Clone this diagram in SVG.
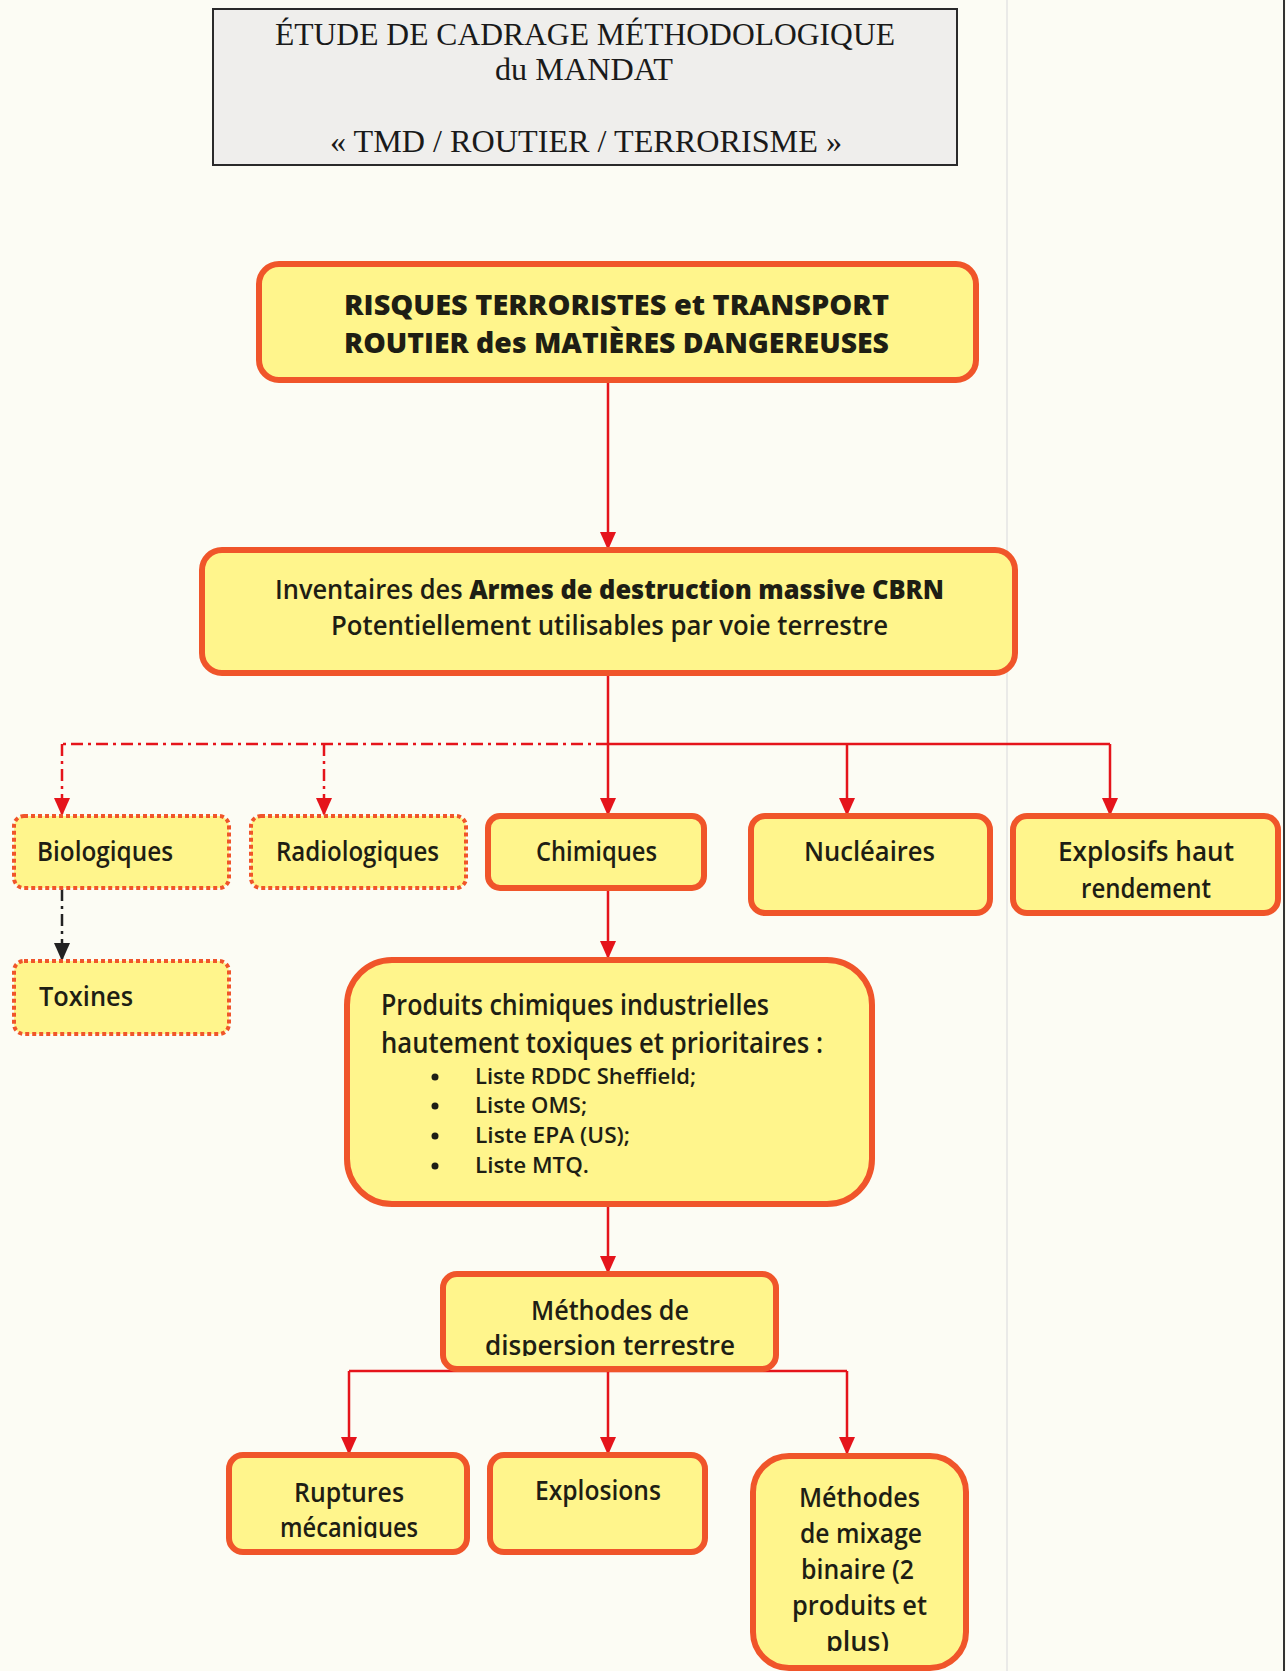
<svg xmlns="http://www.w3.org/2000/svg" width="1286" height="1671" viewBox="0 0 1286 1671">
  <style>
    .node { fill: #fff58c; stroke: #f0552a; stroke-width: 6; }
    .dotted { fill: #fff58c; stroke: #f0552a; stroke-width: 4; stroke-dasharray: 4 3; }
    .lbl { font-family: "Open Sans", "Noto Sans", sans-serif; fill: #1e1e14; font-size: 27px; font-weight: 600; }
    .b { font-weight: 800; }
    .big { font-size: 28px; }
    .head { font-size: 29px; }
    .item { font-size: 22px; }
    .title { font-family: "Liberation Serif", serif; font-size: 31px; fill: #1a1a1a; text-anchor: middle; }
    .wire { fill: none; stroke: #e5141b; stroke-width: 2.5; }
    .dashdot { fill: none; stroke: #e5141b; stroke-width: 2.5; stroke-dasharray: 12 5 3 5; }
    .dashdot-dark { fill: none; stroke: #222; stroke-width: 2.5; stroke-dasharray: 12 5 3 5; }
  </style>
  <defs>
    <!-- arrowheads drawn along +x so orient="auto" turns them with the line -->
    <marker id="arrow" markerUnits="userSpaceOnUse" markerWidth="18" markerHeight="16" refX="17" refY="8" orient="auto" viewBox="0 0 18 16">
      <path d="M0,0 L18,8 L0,16 Z" fill="#e5141b"/>
    </marker>
    <marker id="arrow-dark" markerUnits="userSpaceOnUse" markerWidth="18" markerHeight="16" refX="17" refY="8" orient="auto" viewBox="0 0 18 16">
      <path d="M0,0 L18,8 L0,16 Z" fill="#222"/>
    </marker>
    <clipPath id="clip-dispersion"><rect x="442" y="1274" width="334" height="82"/></clipPath>
    <clipPath id="clip-ruptures"><rect x="228" y="1455" width="239" height="83"/></clipPath>
    <clipPath id="clip-mixage"><rect x="752" y="1455" width="214" height="196"/></clipPath>
  </defs>

  <!-- page -->
  <rect width="1286" height="1671" fill="#fcfcf4"/>
  <line x1="1007" y1="0" x2="1007" y2="1671" stroke="#e4e4e4" stroke-width="1.5"/>
  <line x1="1284" y1="0" x2="1284" y2="1671" stroke="#333" stroke-width="2"/>

  <!-- heading frame -->
  <g id="title">
    <rect x="213" y="9" width="744" height="156" fill="#efeeec" stroke="#2a2a2a" stroke-width="2"/>
    <text class="title" x="585" y="45" textLength="620" lengthAdjust="spacingAndGlyphs">ÉTUDE DE CADRAGE MÉTHODOLOGIQUE</text>
    <text class="title" x="584" y="80" textLength="178" lengthAdjust="spacingAndGlyphs">du MANDAT</text>
    <text class="title" x="586" y="152" textLength="512" lengthAdjust="spacingAndGlyphs">« TMD / ROUTIER  / TERRORISME »</text>
  </g>

  <!-- connectors -->
  <g id="connectors">
    <line class="wire" x1="608" y1="380" x2="608" y2="549" marker-end="url(#arrow)"/>
    <line class="wire" x1="608" y1="673" x2="608" y2="744"/>
    <line class="wire" x1="608" y1="744" x2="1110" y2="744"/>
    <line class="dashdot" x1="608" y1="744" x2="62" y2="744"/>
    <line class="dashdot" x1="62" y1="744" x2="62" y2="815" marker-end="url(#arrow)"/>
    <line class="dashdot" x1="324" y1="744" x2="324" y2="815" marker-end="url(#arrow)"/>
    <line class="wire" x1="608" y1="744" x2="608" y2="815" marker-end="url(#arrow)"/>
    <line class="wire" x1="847" y1="744" x2="847" y2="815" marker-end="url(#arrow)"/>
    <line class="wire" x1="1110" y1="744" x2="1110" y2="815" marker-end="url(#arrow)"/>
    <line class="dashdot-dark" x1="62" y1="889" x2="62" y2="960" marker-end="url(#arrow-dark)"/>
    <line class="wire" x1="608" y1="888" x2="608" y2="958" marker-end="url(#arrow)"/>
    <line class="wire" x1="608" y1="1204" x2="608" y2="1273" marker-end="url(#arrow)"/>
    <line class="wire" x1="349" y1="1371" x2="847" y2="1371"/>
    <line class="wire" x1="349" y1="1371" x2="349" y2="1454" marker-end="url(#arrow)"/>
    <line class="wire" x1="608" y1="1369" x2="608" y2="1454" marker-end="url(#arrow)"/>
    <line class="wire" x1="847" y1="1371" x2="847" y2="1454" marker-end="url(#arrow)"/>
  </g>

  <g id="risques">
    <rect class="node" x="259" y="264" width="717" height="116" rx="20" stroke-width="7"/>
    <text class="lbl b big" x="344" y="315" textLength="545" lengthAdjust="spacingAndGlyphs">RISQUES TERRORISTES et TRANSPORT</text>
    <text class="lbl b big" x="344" y="353" textLength="545" lengthAdjust="spacingAndGlyphs">ROUTIER des MATIÈRES DANGEREUSES</text>
  </g>

  <g id="inventaires">
    <rect class="node" x="202" y="550" width="813" height="123" rx="20" stroke-width="7"/>
    <text class="lbl" x="275" y="599" textLength="669" lengthAdjust="spacingAndGlyphs">Inventaires des <tspan class="b">Armes de destruction massive CBRN</tspan></text>
    <text class="lbl" x="331" y="635" textLength="557" lengthAdjust="spacingAndGlyphs">Potentiellement utilisables par voie terrestre</text>
  </g>

  <g id="biologiques">
    <rect class="dotted" x="14" y="816" width="215" height="72" rx="10"/>
    <text class="lbl" x="37" y="861" textLength="136" lengthAdjust="spacingAndGlyphs">Biologiques</text>
  </g>

  <g id="radiologiques">
    <rect class="dotted" x="251" y="816" width="215" height="72" rx="10"/>
    <text class="lbl" x="276" y="861" textLength="163" lengthAdjust="spacingAndGlyphs">Radiologiques</text>
  </g>

  <g id="chimiques">
    <rect class="node" x="488" y="816" width="216" height="72" rx="12" stroke-width="5"/>
    <text class="lbl" x="536" y="861" textLength="121" lengthAdjust="spacingAndGlyphs">Chimiques</text>
  </g>

  <g id="nucleaires">
    <rect class="node" x="751" y="816" width="239" height="97" rx="14" stroke-width="5"/>
    <text class="lbl" x="804" y="861" textLength="131" lengthAdjust="spacingAndGlyphs">Nucléaires</text>
  </g>

  <g id="explosifs">
    <rect class="node" x="1013" y="816" width="265" height="97" rx="14" stroke-width="5"/>
    <text class="lbl" x="1058" y="861" textLength="176" lengthAdjust="spacingAndGlyphs">Explosifs haut</text>
    <text class="lbl" x="1081" y="898" textLength="130" lengthAdjust="spacingAndGlyphs">rendement</text>
  </g>

  <g id="toxines">
    <rect class="dotted" x="14" y="961" width="215" height="73" rx="10"/>
    <text class="lbl" x="39" y="1006" textLength="94" lengthAdjust="spacingAndGlyphs">Toxines</text>
  </g>

  <g id="produits">
    <rect class="node" x="347" y="960" width="525" height="244" rx="45" stroke-width="8"/>
    <text class="lbl head" x="381" y="1015" textLength="388" lengthAdjust="spacingAndGlyphs">Produits chimiques industrielles</text>
    <text class="lbl head" x="381" y="1053" textLength="442" lengthAdjust="spacingAndGlyphs">hautement toxiques et prioritaires :</text>
    <g fill="#1e1e14">
      <circle cx="435" cy="1077" r="3.5"/>
      <circle cx="435" cy="1106" r="3.5"/>
      <circle cx="435" cy="1136" r="3.5"/>
      <circle cx="435" cy="1166" r="3.5"/>
    </g>
    <text class="lbl item" x="475" y="1084" textLength="221" lengthAdjust="spacingAndGlyphs">Liste RDDC Sheffield;</text>
    <text class="lbl item" x="475" y="1113" textLength="112" lengthAdjust="spacingAndGlyphs">Liste OMS;</text>
    <text class="lbl item" x="475" y="1143" textLength="155" lengthAdjust="spacingAndGlyphs">Liste EPA (US);</text>
    <text class="lbl item" x="475" y="1173" textLength="114" lengthAdjust="spacingAndGlyphs">Liste MTQ.</text>
  </g>

  <g id="dispersion">
    <rect class="node" x="443" y="1274" width="333" height="95" rx="14" stroke-width="5"/>
    <g clip-path="url(#clip-dispersion)">
      <text class="lbl" x="531" y="1320" textLength="158" lengthAdjust="spacingAndGlyphs">Méthodes de</text>
      <text class="lbl" x="485" y="1355" textLength="250" lengthAdjust="spacingAndGlyphs">dispersion terrestre</text>
    </g>
  </g>

  <g id="ruptures">
    <rect class="node" x="229" y="1455" width="238" height="97" rx="14" stroke-width="5"/>
    <g clip-path="url(#clip-ruptures)">
      <text class="lbl" x="294" y="1502" textLength="110" lengthAdjust="spacingAndGlyphs">Ruptures</text>
      <text class="lbl" x="280" y="1537" textLength="138" lengthAdjust="spacingAndGlyphs">mécaniques</text>
    </g>
  </g>

  <g id="explosions">
    <rect class="node" x="490" y="1455" width="215" height="97" rx="14" stroke-width="5"/>
    <text class="lbl" x="535" y="1500" textLength="126" lengthAdjust="spacingAndGlyphs">Explosions</text>
  </g>

  <g id="mixage">
    <rect class="node" x="753" y="1456" width="213" height="212" rx="36" stroke-width="6"/>
    <g clip-path="url(#clip-mixage)">
      <text class="lbl" x="799" y="1507" textLength="121" lengthAdjust="spacingAndGlyphs">Méthodes</text>
      <text class="lbl" x="800" y="1543" textLength="122" lengthAdjust="spacingAndGlyphs">de mixage</text>
      <text class="lbl" x="801" y="1579" textLength="113" lengthAdjust="spacingAndGlyphs">binaire (2</text>
      <text class="lbl" x="792" y="1615" textLength="135" lengthAdjust="spacingAndGlyphs">produits et</text>
      <text class="lbl" x="826" y="1651" textLength="63" lengthAdjust="spacingAndGlyphs">plus)</text>
    </g>
  </g>
</svg>
